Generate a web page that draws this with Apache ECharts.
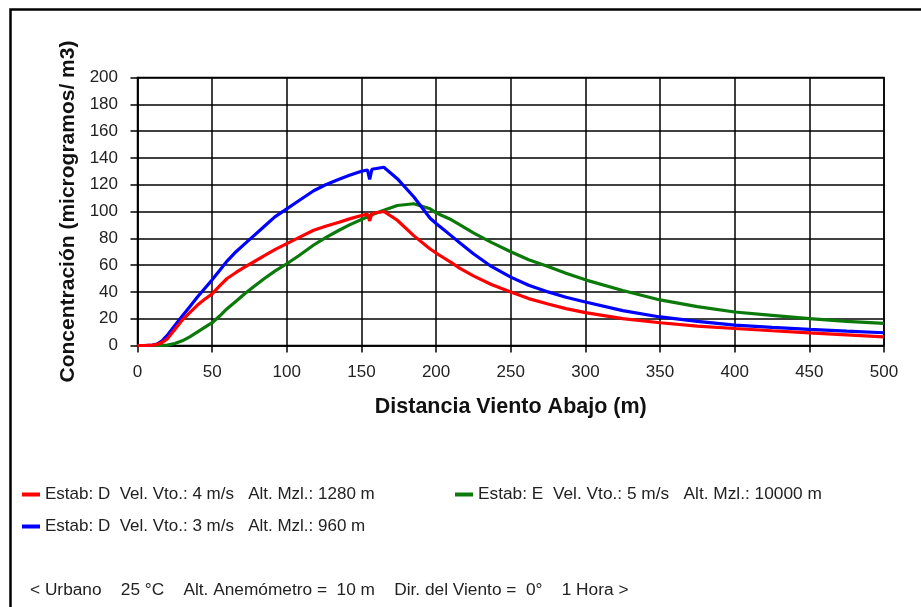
<!DOCTYPE html>
<html>
<head>
<meta charset="utf-8">
<script src="https://cdn.jsdelivr.net/npm/echarts@6/dist/echarts.min.js"></script>
<style>
html,body{margin:0;padding:0;background:#fff;}
#c{width:921px;height:607px;}
</style>
</head>
<body>
<div id="c"></div>
<script>
// Distance downwind (m)
var distances = [0,5,10,13,16,20,25,30,35,40,45,50,55,60,66,72,78,85,92,100,108,118,126,135,142,150,154,155.5,157,165,174,185,196,200,205,210,216,225,237,250,262,275,287,300,325,350,375,400,425,450,475,500];
// Concentration (micrograms/m3)
var redValues   = [0,0,0.3,0.8,2,5,12,19,24.5,30,34.5,38.5,44.5,50,54.5,58.7,62.5,67,71.5,76,80.5,86,89,92,94.5,97,98,93,98.5,100,93.5,82,72,69,65.5,62,57.5,52,45.5,40,35,31,27.5,24.5,20,17,14.5,12.7,11,9.4,8,6.5];
var blueValues  = [0,0,0.3,1,3,7.7,15,22,29,36,42.5,49,56,63,70,76,82,89,96,102,108,115.5,120,124,127,130,131,124,131.5,133,124.5,111,95,91,86.5,82,76.5,68.5,59,51,45,40,36,32.5,26,21.3,18,15.2,13.5,12,10.7,9.5];
var greenValues = [0,0,0,0,0,0.3,1.5,3.5,6.5,10,13.5,17,22,27.5,33,38.8,44,50,55.5,61,67,75,80.5,86,90,94,96,97,97.5,101,104.5,105.8,102,99,96.5,94,90,84,77,70,64,59,54,49,41,34,29,25,22.5,20,18,16.5];

var redName   = 'Estab: D  Vel. Vto.: 4 m/s   Alt. Mzl.: 1280 m';
var blueName  = 'Estab: D  Vel. Vto.: 3 m/s   Alt. Mzl.: 960 m';
var greenName = 'Estab: E  Vel. Vto.: 5 m/s   Alt. Mzl.: 10000 m';
var footerText = '< Urbano    25 °C    Alt. Anemómetro =  10 m    Dir. del Viento =  0°    1 Hora >';
var xTitle = 'Distancia Viento Abajo (m)';
var yTitle = 'Concentración (microgramos/ m3)';

function pairs(xs, ys){ return xs.map(function(x,i){ return [x, ys[i]]; }); }

var FONT = '"Liberation Sans", Arial, sans-serif';
var chart = echarts.init(document.getElementById('c'), null, {renderer:'canvas'});

var legendBase = {
  orient:'horizontal', icon:'rect', itemWidth:18, itemHeight:4, itemGap:10,
  textStyle:{fontFamily:FONT, fontSize:17, color:'#222'},
  selectedMode:false, padding:0
};

chart.setOption({
  animation:false,
  backgroundColor:'#fff',
  grid:{left:137.5, right:37, top:77.5, bottom:261.5, show:true, borderColor:'#000', borderWidth:1.5},
  xAxis:{
    type:'value', min:0, max:500, interval:50,
    name:xTitle, nameLocation:'middle', nameGap:51,
    nameTextStyle:{fontFamily:FONT, fontSize:21.5, fontWeight:'bold', color:'#111'},
    axisLine:{show:true, onZero:false, lineStyle:{color:'#000', width:1.5}},
    axisTick:{show:true, length:7, lineStyle:{color:'#000', width:1.5}},
    axisLabel:{fontFamily:FONT, fontSize:17, color:'#222', margin:18},
    splitLine:{show:true, lineStyle:{color:'#000', width:1.5}}
  },
  yAxis:{
    type:'value', min:0, max:200, interval:20,
    name:yTitle, nameLocation:'middle', nameGap:59, nameRotate:90,
    nameTextStyle:{fontFamily:FONT, fontSize:21, fontWeight:'bold', color:'#111'},
    axisLine:{show:true, lineStyle:{color:'#000', width:1.5}},
    axisTick:{show:true, length:7, lineStyle:{color:'#000', width:1.5}},
    axisLabel:{fontFamily:FONT, fontSize:17, color:'#222', margin:19.5},
    splitLine:{show:true, lineStyle:{color:'#000', width:1.5}}
  },
  legend:[
    Object.assign({}, legendBase, {data:[redName],   left:22,  top:486}),
    Object.assign({}, legendBase, {data:[greenName], left:455, top:486, textStyle:{fontFamily:FONT, fontSize:17.3, color:'#222'}}),
    Object.assign({}, legendBase, {data:[blueName],  left:22,  top:518})
  ],
  graphic:[
    {type:'rect', left:8, top:7, shape:{x:0,y:0,width:960,height:660}, style:{fill:'none', stroke:'#000', lineWidth:2.5}, silent:true, z:-1},
    {type:'text', left:30, top:582, style:{text:footerText, fontFamily:FONT, fontSize:17.3, fill:'#222'}}
  ],
  series:[
    {name:greenName, type:'line', data:pairs(distances, greenValues), showSymbol:false, smooth:false, lineStyle:{color:'#0b7a0b', width:3.2}, itemStyle:{color:'#0b7a0b'}, z:3},
    {name:blueName, type:'line', data:pairs(distances, blueValues), showSymbol:false, smooth:false, lineStyle:{color:'#0000ff', width:3.2}, itemStyle:{color:'#0000ff'}, z:4},
    {name:redName, type:'line', data:pairs(distances, redValues), showSymbol:false, smooth:false, lineStyle:{color:'#ff0000', width:3.2}, itemStyle:{color:'#ff0000'}, z:5}
  ]
});
</script>
</body>
</html>
